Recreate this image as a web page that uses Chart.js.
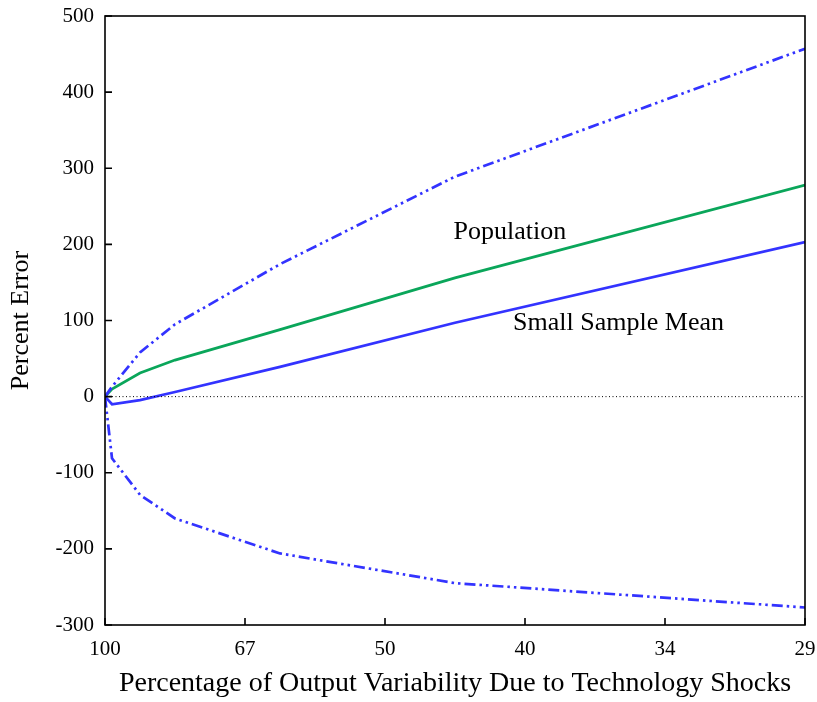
<!DOCTYPE html>
<html lang="en">
<head>
    <meta charset="UTF-8">
    <style>
        * { margin: 0; padding: 0; box-sizing: border-box; }
        body { background: #fff; }
        .chart-box { width: 817px; height: 702px; position: relative; }
    </style>
</head>
<body>
    <div class="chart-box">
        <canvas id="errorChart"></canvas>
    </div>

    <script src="https://cdn.jsdelivr.net/npm/chart.js@4/dist/chart.umd.min.js"></script>
    <script>
        // x positions (evenly spaced axis, labelled by percentage)
        const xValues = [0, 0.05, 0.25, 0.5, 1.25, 2.5, 5];
        const xTickLabels = ['100', '67', '50', '40', '34', '29'];

        const upperBand  = [0, 13, 58, 95, 174, 289, 457];
        const population = [0, 10, 31, 48, 88, 156, 278];
        const sampleMean = [0, -10, -4.5, 6, 39, 97, 203];
        const lowerBand  = [0, -81, -129, -160, -206, -245, -277];
        const zeroLine   = [0, 0];
        const zeroLineX  = [0, 5];

        const notes = [
            { text: 'Population', x: 2.49, y: 207 },
            { text: 'Small Sample Mean', x: 2.915, y: 87 }
        ];

        const serif = '"Liberation Serif", "Times New Roman", serif';
        const blue = '#3333ff';
        const green = '#0aa65a';
        const dashDotDot = [11, 4, 2.5, 4, 2.5, 4];

        const toPoints = (xs, ys) => xs.map((x, i) => ({ x: x, y: ys[i] }));

        // box round the plot, inward ticks and the two curve labels
        const framePlugin = {
            id: 'frame',
            afterDatasetsDraw(chart) {
                const { ctx, chartArea: a, scales: { x, y } } = chart;
                ctx.save();
                ctx.strokeStyle = '#000';
                ctx.lineWidth = 1.6;
                ctx.strokeRect(a.left, a.top, a.right - a.left, a.bottom - a.top);
                ctx.beginPath();
                x.ticks.forEach((t, i) => {
                    const px = x.getPixelForTick(i);
                    ctx.moveTo(px, a.bottom);
                    ctx.lineTo(px, a.bottom - 7);
                });
                y.ticks.forEach((t, i) => {
                    const py = y.getPixelForTick(i);
                    ctx.moveTo(a.left, py);
                    ctx.lineTo(a.left + 7, py);
                });
                ctx.stroke();

                ctx.fillStyle = '#000';
                ctx.font = '26px ' + serif;
                ctx.textBaseline = 'alphabetic';
                ctx.textAlign = 'left';
                notes.forEach(n => {
                    ctx.fillText(n.text, x.getPixelForValue(n.x), y.getPixelForValue(n.y));
                });
                ctx.restore();
            }
        };

        const ctx = document.getElementById('errorChart').getContext('2d');
        const errorChart = new Chart(ctx, {
            type: 'line',
            data: {
                datasets: [{
                    label: 'Zero',
                    data: toPoints(zeroLineX, zeroLine),
                    borderColor: '#000',
                    borderWidth: 1,
                    borderDash: [1, 2.5]
                }, {
                    label: 'Upper',
                    data: toPoints(xValues, upperBand),
                    borderColor: blue,
                    borderWidth: 2.7,
                    borderDash: dashDotDot
                }, {
                    label: 'Lower',
                    data: toPoints(xValues, lowerBand),
                    borderColor: blue,
                    borderWidth: 2.7,
                    borderDash: dashDotDot
                }, {
                    label: 'Population',
                    data: toPoints(xValues, population),
                    borderColor: green,
                    borderWidth: 2.7
                }, {
                    label: 'Small Sample Mean',
                    data: toPoints(xValues, sampleMean),
                    borderColor: blue,
                    borderWidth: 2.7
                }]
            },
            options: {
                responsive: true,
                maintainAspectRatio: false,
                animation: false,
                devicePixelRatio: 1,
                layout: { padding: { left: 0, right: 12, top: 16, bottom: 0 } },
                elements: { point: { radius: 0 }, line: { tension: 0 } },
                plugins: {
                    legend: { display: false },
                    tooltip: { enabled: false }
                },
                scales: {
                    x: {
                        type: 'linear',
                        min: 0,
                        max: 5,
                        afterFit: s => {
                            s.height = 77;
                            s.paddingLeft = 0;
                            s.paddingRight = 0;
                        },
                        grid: { display: false, drawTicks: false },
                        border: { display: false },
                        ticks: {
                            stepSize: 1,
                            padding: 12,
                            color: '#000',
                            font: { family: serif, size: 21 },
                            callback: (v) => xTickLabels[v]
                        },
                        title: {
                            display: true,
                            text: 'Percentage of Output Variability Due to Technology Shocks',
                            color: '#000',
                            font: { family: serif, size: 28 },
                            padding: { top: 0, bottom: 2 }
                        }
                    },
                    y: {
                        min: -300,
                        max: 500,
                        afterFit: s => {
                            s.width = 105;
                            s.paddingTop = 0;
                            s.paddingBottom = 0;
                        },
                        grid: { display: false, drawTicks: false },
                        border: { display: false },
                        ticks: {
                            stepSize: 100,
                            padding: 11,
                            color: '#000',
                            font: { family: serif, size: 21 }
                        },
                        title: {
                            display: true,
                            text: 'Percent Error',
                            color: '#000',
                            font: { family: serif, size: 26 },
                            padding: { top: 6, bottom: 0 }
                        }
                    }
                }
            },
            plugins: [framePlugin]
        });
    </script>
</body>
</html>
